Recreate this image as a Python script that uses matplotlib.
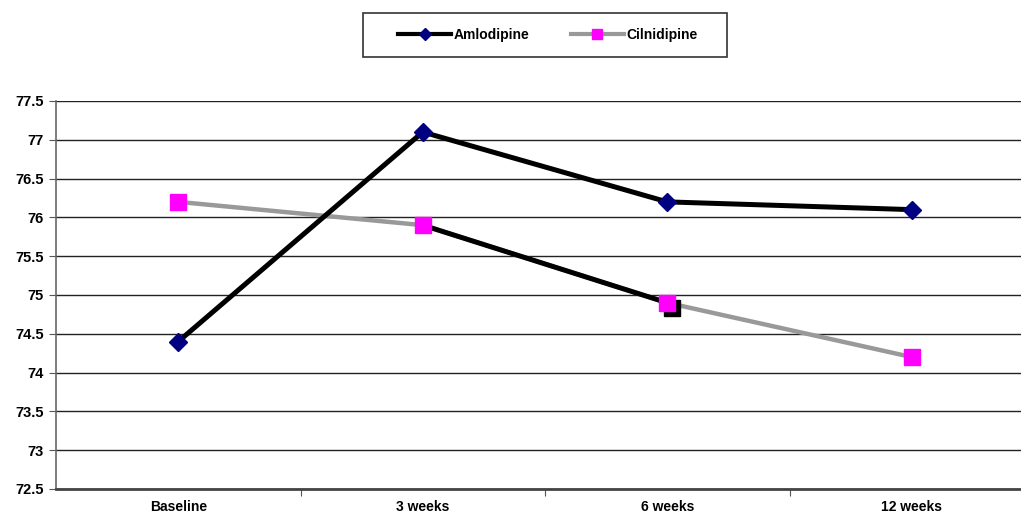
import matplotlib.pyplot as plt
import matplotlib.transforms as mtransforms
from matplotlib.lines import Line2D
from matplotlib.patches import Rectangle

# data
categories = ['Baseline', '3 weeks', '6 weeks', '12 weeks']
amlodipine = [74.4, 77.1, 76.2, 76.1]
cilnidipine = [76.2, 75.9, 74.9, 74.2]
yticks = [72.5, 73, 73.5, 74, 74.5, 75, 75.5, 76, 76.5, 77, 77.5]

plt.rcParams['font.family'] = ['Liberation Sans', 'DejaVu Sans']
plt.rcParams['font.weight'] = 'bold'

W, H = 1021, 516
fig = plt.figure(figsize=(W / 100, H / 100), dpi=100)
ax = fig.add_axes([56 / W, 27 / H, 978 / W, 388 / H])

x = list(range(len(categories)))

for yv in yticks:
    ax.axhline(yv, color='#222222', lw=1.0, zorder=1)

# cilnidipine (gray) with the stray black overlay between 3 and 6 weeks
ax.plot(x, cilnidipine, color='#999999', lw=3.2, zorder=2, solid_capstyle='butt')
ax.plot(x[1:3], cilnidipine[1:3], color='black', lw=3.6, zorder=3)
shifted = mtransforms.offset_copy(ax.transData, fig=fig, x=5, y=-5, units='dots')
ax.plot([x[2]], [cilnidipine[2]], 's', color='black', ms=11, transform=shifted, zorder=3)
ax.plot(x, cilnidipine, 's', color='#ff00ff', ms=11.5, mec='#ff00ff', zorder=4)

ax.plot(x, amlodipine, color='black', lw=3.6, zorder=5,
        marker='D', ms=9.5, mfc='#000080', mec='#000080')

ax.set_xlim(-0.5, 3.5)
ax.set_ylim(72.5, 77.5)
ax.set_yticks(yticks)
ax.set_yticklabels([f'{v:g}' for v in yticks], fontsize=10.5, fontweight='bold')
ax.set_xticks([0.5, 1.5, 2.5], minor=False)
ax.set_xticklabels([])
ax.set_xticks(x, minor=True)
ax.set_xticklabels(categories, minor=True, fontsize=10, fontweight='bold')
ax.tick_params(axis='x', which='minor', length=0, pad=8)
ax.tick_params(axis='x', which='major', length=5, color='#555555', direction='out')
ax.tick_params(axis='y', length=5, color='#555555', direction='out', pad=4)

for side in ['top', 'right']:
    ax.spines[side].set_visible(False)
ax.spines['left'].set_color('#666666')
ax.spines['left'].set_linewidth(1.2)
ax.spines['bottom'].set_color('#444444')
ax.spines['bottom'].set_linewidth(2)

# legend box drawn separately so its width matches the reference
fig.patches.append(Rectangle((363 / W, 1 - 57 / H), 364 / W, 44 / H,
                             transform=fig.transFigure, fill=False,
                             edgecolor='#333333', lw=1.2))
handles = [
    Line2D([], [], color='black', lw=3, marker='D', ms=6.5, mfc='#000080', mec='#000080'),
    Line2D([], [], color='#999999', lw=3, marker='s', ms=7.5, mfc='#ff00ff', mec='#ff00ff'),
]
fig.legend(handles, ['Amlodipine', 'Cilnidipine'], ncol=2,
           loc='center', bbox_to_anchor=(548 / W, 1 - 35 / H),
           frameon=False, prop={'size': 10, 'weight': 'bold'},
           handlelength=3.8, columnspacing=3.0, handletextpad=0.2,
           borderaxespad=0)

fig.savefig('out.png', dpi=100)
